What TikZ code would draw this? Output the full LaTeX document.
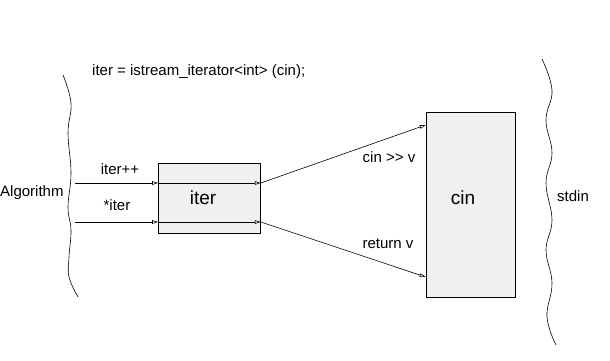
\documentclass[tikz,border=0pt]{standalone}
\usepackage{fontspec}
\setmainfont{Liberation Sans}
\usetikzlibrary{arrows.meta}
\begin{document}
\begin{tikzpicture}[x={(1pt,0)},y={(0,-1pt)},
  lbl/.style={inner sep=0pt,font=\fontsize{15}{17}\selectfont},
  biglbl/.style={inner sep=0pt,font=\fontsize{19}{21}\selectfont},
  boxst/.style={draw,fill=black!6,inner sep=0pt,line width=0.6pt},
  wave/.style={line width=0.6pt},
  arr/.style={line width=0.6pt,-{Triangle[open,length=6pt,width=3.6pt]}}]
\useasboundingbox (0,0) rectangle (610,360);
% wavy boundaries
\draw[wave] plot[smooth,tension=0.7] coordinates {(63,75) (71,103) (68,133) (71,173) (68,207) (71,230) (69,257) (69,277) (78,297)};
\draw[wave] plot[smooth,tension=0.7] coordinates {(542,59) (552,90) (546,120) (552,153) (546,183) (552,220) (546,250) (552,283) (547,317) (556,345)};
% boxes
\node[boxst,minimum width=102pt,minimum height=70pt] (iter) at (209.5,198) {};
\node[boxst,minimum width=89pt,minimum height=185pt] (cin) at (470.5,204.5) {};
\node[biglbl] (itertxt) at (203,198) {iter};
\node[biglbl] (cintxt) at (463,198) {cin};
% texts
\node[lbl,anchor=west] (title) at (92,72) {iter = istream\_iterator<int> (cin);};
\node[lbl,anchor=west] (alg) at (0,193) {Algorithm};
\node[lbl,anchor=west] (stdin) at (557,196) {stdin};
\node[lbl] (lpp) at (120,169) {iter++};
\node[lbl] (lst) at (117,205) {*iter};
\node[lbl] (lcin) at (389,157) {cin >{}> v};
\node[lbl] (lret) at (388,244) {return v};
% connectors
\coordinate (a1) at (75,183);
\coordinate (a2) at (75,222);
\coordinate (c1) at (426,125);
\coordinate (c2) at (426,277);
\draw[arr] (a1) -- (a1 -| iter.west);
\draw[arr] (a2) -- (a2 -| iter.west);
\draw[arr] (a1 -| iter.west) -- (a1 -| iter.east);
\draw[arr] (a2 -| iter.west) -- (a2 -| iter.east);
\draw[arr] (a1 -| iter.east) -- (c1 -| cin.west);
\draw[arr] (a2 -| iter.east) -- (c2 -| cin.west);
\end{tikzpicture}
\end{document}
